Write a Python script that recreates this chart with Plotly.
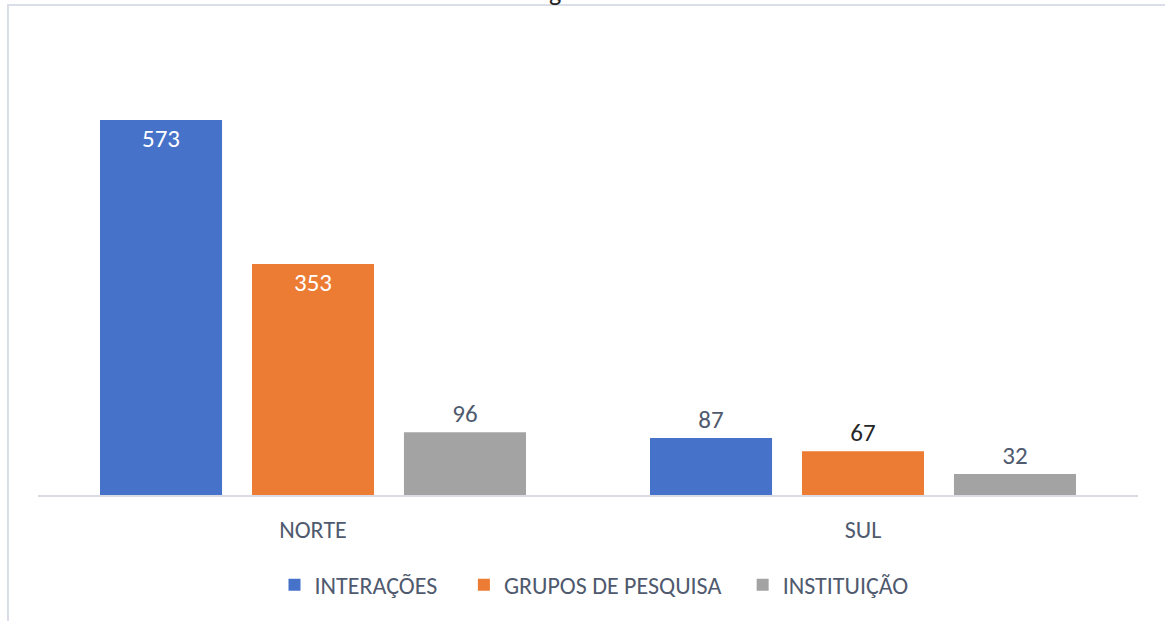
import plotly.graph_objects as go

categories = ["NORTE", "SUL"]
series_names = ["INTERAÇÕES", "GRUPOS DE PESQUISA", "INSTITUIÇÃO"]
interacoes = [573, 87]
grupos = [353, 67]
instituicao = [96, 32]

colors = ["#4673C9", "#EC7B33", "#A3A3A3"]
text_pos = [["inside", "outside"], ["inside", "outside"], ["outside", "outside"]]
outside_colors = ["#4F5A6E", "#262626", "#4F5A6E"]
legend_pad = ["\u00a0\u00a0\u00a0\u00a0", "\u00a0\u00a0\u00a0", ""]

FONT = "Carlito, Open Sans, sans-serif"
TXT = "#4F5A6E"

fig = go.Figure()
for name, vals, col, tp, oc, pad in zip(series_names, [interacoes, grupos, instituicao],
                                        colors, text_pos, outside_colors, legend_pad):
    fig.add_trace(go.Bar(
        x=categories, y=vals, name=name + pad,
        marker=dict(color=col, line=dict(width=0)),
        text=[str(v) for v in vals],
        textposition=tp,
        insidetextanchor="end",
        insidetextfont=dict(color="white", size=25, family=FONT),
        outsidetextfont=dict(color=oc, size=25, family=FONT),
        cliponaxis=False,
    ))

fig.update_layout(
    width=1165, height=621,
    margin=dict(l=38, r=27, t=40, b=126),
    paper_bgcolor="white", plot_bgcolor="white",
    barmode="group", bargap=0.171, bargroupgap=0.197,
    font=dict(family=FONT, color=TXT, size=23),
    showlegend=True,
    legend=dict(orientation="h", x=0.5 + 6 / 1100, xanchor="center", y=-0.198, yanchor="middle",
                font=dict(size=24, color=TXT, family=FONT),
                itemwidth=30, traceorder="normal"),
    xaxis=dict(showline=True, linecolor="#D9DCE4", linewidth=2, ticks="",
               ticklabelstandoff=12,
               tickfont=dict(size=24, color=TXT, family=FONT), showgrid=False),
    yaxis=dict(range=[0, 695.2], visible=False, showgrid=False, zeroline=False),
    shapes=[dict(type="rect", xref="paper", yref="paper",
                 x0=-0.0273, x1=1.2, y0=-0.6, y1=1.0769,
                 line=dict(color="#D9DEE8", width=2), fillcolor="rgba(0,0,0,0)", layer="below")],
    annotations=[dict(text="g", xref="paper", yref="paper", x=(555 - 38) / 1100, y=(495 + 8) / 455,
                      xanchor="center", yanchor="middle", showarrow=False,
                      font=dict(size=26, color="#222222", family=FONT))],
)

fig.write_html("out.html", config={"displayModeBar": False},
               post_script="document.body.style.margin='0px';")
